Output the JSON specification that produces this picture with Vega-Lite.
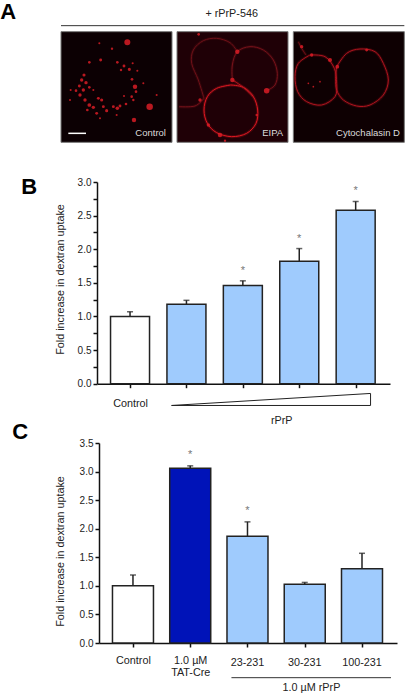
{"$schema":"https://vega.github.io/schema/vega-lite/v6.json","padding":0,"spacing":0,"bounds":"flush","background":"white","resolve":{"scale":{"color":"independent","size":"independent"}},"config":{"view":{"stroke":null},"font":"Liberation Sans","axis":{"labelFont":"Liberation Sans","titleFont":"Liberation Sans","grid":false,"domainColor":"#111","tickColor":"#111","labelColor":"#222","titleColor":"#222"}},
"datasets":{
"panels":[{"name":"Control","x0":183,"x1":516,"y0":95,"y1":427,"bg":"control"},{"name":"EIPA","x0":531,"x1":864,"y0":95,"y1":427,"bg":"eipa"},{"name":"Cytochalasin D","x0":880,"x1":1213,"y0":95,"y1":427,"bg":"cyto"}],
"rings":[
{"s":"e1","o":1,"x":692,"y":255},{"s":"e1","o":2,"x":730,"y":262},{"s":"e1","o":3,"x":760,"y":290},{"s":"e1","o":4,"x":773,"y":330},{"s":"e1","o":5,"x":768,"y":370},{"s":"e1","o":6,"x":740,"y":400},{"s":"e1","o":7,"x":695,"y":410},{"s":"e1","o":8,"x":650,"y":398},{"s":"e1","o":9,"x":622,"y":370},{"s":"e1","o":10,"x":612,"y":330},{"s":"e1","o":11,"x":622,"y":290},{"s":"e1","o":12,"x":650,"y":265},{"s":"e1","o":13,"x":692,"y":255},
{"s":"e2","o":1,"x":612,"y":295},{"s":"e2","o":2,"x":595,"y":240},{"s":"e2","o":3,"x":575,"y":190},{"s":"e2","o":4,"x":580,"y":150},{"s":"e2","o":5,"x":610,"y":122},{"s":"e2","o":6,"x":650,"y":115},{"s":"e2","o":7,"x":690,"y":128},{"s":"e2","o":8,"x":712,"y":155},
{"s":"e3","o":1,"x":697,"y":240},{"s":"e3","o":2,"x":697,"y":195},{"s":"e3","o":3,"x":712,"y":155},{"s":"e3","o":4,"x":750,"y":140},{"s":"e3","o":5,"x":790,"y":150},{"s":"e3","o":6,"x":820,"y":180},{"s":"e3","o":7,"x":832,"y":220},{"s":"e3","o":8,"x":825,"y":255},{"s":"e3","o":9,"x":800,"y":272},
{"s":"e4","o":1,"x":760,"y":290},{"s":"e4","o":2,"x":730,"y":262},{"s":"e4","o":3,"x":698,"y":240},
{"s":"e5","o":1,"x":537,"y":320},{"s":"e5","o":2,"x":585,"y":318},{"s":"e5","o":3,"x":612,"y":295},
{"s":"c1","o":1,"x":930,"y":165},{"s":"c1","o":2,"x":975,"y":170},{"s":"c1","o":3,"x":1003,"y":205},{"s":"c1","o":4,"x":1010,"y":250},{"s":"c1","o":5,"x":1005,"y":290},{"s":"c1","o":6,"x":965,"y":315},{"s":"c1","o":7,"x":920,"y":305},{"s":"c1","o":8,"x":893,"y":275},{"s":"c1","o":9,"x":885,"y":230},{"s":"c1","o":10,"x":895,"y":190},{"s":"c1","o":11,"x":930,"y":165},
{"s":"c2","o":1,"x":1010,"y":200},{"s":"c2","o":2,"x":1040,"y":160},{"s":"c2","o":3,"x":1080,"y":147},{"s":"c2","o":4,"x":1125,"y":155},{"s":"c2","o":5,"x":1150,"y":190},{"s":"c2","o":6,"x":1165,"y":240},{"s":"c2","o":7,"x":1150,"y":285},{"s":"c2","o":8,"x":1110,"y":315},{"s":"c2","o":9,"x":1070,"y":318},{"s":"c2","o":10,"x":1030,"y":300},{"s":"c2","o":11,"x":1010,"y":270},{"s":"c2","o":12,"x":1007,"y":235},{"s":"c2","o":13,"x":1010,"y":200},
{"s":"c3","o":1,"x":895,"y":125},{"s":"c3","o":2,"x":905,"y":145},{"s":"c3","o":3,"x":918,"y":165}],
"spots":[
{"x":382,"y":127,"b":26},{"x":449,"y":320,"b":30},{"x":402,"y":360,"b":14},{"x":405,"y":260,"b":14},{"x":298,"y":130,"b":3},{"x":336,"y":146,"b":4},{"x":268,"y":187,"b":5},{"x":302,"y":180,"b":6},{"x":352,"y":187,"b":5},{"x":372,"y":198,"b":6},{"x":388,"y":208,"b":7},{"x":398,"y":190,"b":3},{"x":363,"y":210,"b":4},{"x":412,"y":212,"b":3},{"x":396,"y":238,"b":5},{"x":252,"y":225,"b":7},{"x":245,"y":240,"b":8},{"x":258,"y":248,"b":8},{"x":238,"y":258,"b":6},{"x":268,"y":262,"b":5},{"x":250,"y":270,"b":8},{"x":228,"y":272,"b":5},{"x":212,"y":270,"b":3},{"x":240,"y":285,"b":8},{"x":255,"y":300,"b":8},{"x":268,"y":315,"b":10},{"x":280,"y":322,"b":8},{"x":262,"y":330,"b":5},{"x":295,"y":295,"b":6},{"x":305,"y":300,"b":7},{"x":310,"y":320,"b":6},{"x":290,"y":340,"b":6},{"x":320,"y":332,"b":7},{"x":340,"y":320,"b":6},{"x":352,"y":325,"b":9},{"x":360,"y":318,"b":6},{"x":378,"y":312,"b":5},{"x":395,"y":290,"b":5},{"x":400,"y":300,"b":4},{"x":372,"y":288,"b":3},{"x":408,"y":275,"b":5},{"x":430,"y":250,"b":3},{"x":470,"y":285,"b":3},{"x":350,"y":345,"b":3},{"x":300,"y":355,"b":3},{"x":280,"y":270,"b":3},{"x":210,"y":300,"b":3},
{"x":800,"y":272,"b":22},{"x":712,"y":155,"b":14},{"x":697,"y":240,"b":14},{"x":596,"y":103,"b":5},{"x":660,"y":405,"b":14},{"x":625,"y":375,"b":8},{"x":600,"y":300,"b":8},{"x":675,"y":422,"b":4},{"x":770,"y":345,"b":4},
{"x":990,"y":180,"b":12},{"x":935,"y":165,"b":8},{"x":1100,"y":150,"b":6},{"x":1012,"y":200,"b":10},{"x":905,"y":140,"b":8},{"x":940,"y":260,"b":2},{"x":960,"y":245,"b":2},{"x":925,"y":250,"b":2}],
"labelsA":[{"t":"Control","x":452,"y":400},{"t":"EIPA","x":818,"y":400},{"t":"Cytochalasin D","x":1104,"y":400}],
"top":[{"t":"+ rPrP-546","x":695,"y":42}],
"rules":[{"x":183,"x2":1213,"y":77,"k":"head"}],
"scalebar":[{"x":205,"x2":258,"y":400}],
"b":[{"n":1,"group":"Control","value":1.0,"upper":1.07,"sig":false},{"n":2,"group":"rPrP","value":1.18,"upper":1.24,"sig":false},{"n":3,"group":"rPrP","value":1.46,"upper":1.53,"sig":true},{"n":4,"group":"rPrP","value":1.82,"upper":2.01,"sig":true},{"n":5,"group":"rPrP","value":2.58,"upper":2.71,"sig":true}],
"c":[{"n":1,"group":"Control","label":"Control","value":1.0,"upper":1.19,"sig":false},{"n":2,"group":"TAT-Cre","label":"TAT-Cre","value":3.06,"upper":3.1,"sig":true},{"n":3,"group":"rPrP","label":"23-231","value":1.87,"upper":2.12,"sig":true},{"n":4,"group":"rPrP","label":"30-231","value":1.03,"upper":1.06,"sig":false},{"n":5,"group":"rPrP","label":"100-231","value":1.3,"upper":1.57,"sig":false}],
"wedge":[{"o":1,"x":1.736,"y":-0.324},{"o":2,"x":5.264,"y":-0.145},{"o":3,"x":5.264,"y":-0.324},{"o":4,"x":1.736,"y":-0.324}]
},
"vconcat":[
{"width":405,"height":170,"resolve":{"scale":{"color":"independent","size":"independent"}},"encoding":{"x":{"type":"quantitative","scale":{"domain":[0,1215],"range":[0,405]},"axis":null},"y":{"type":"quantitative","scale":{"domain":[0,510],"range":[0,170]},"axis":null}},
"layer":[
{"data":{"name":"panels"},"mark":{"type":"rect","stroke":"#777","strokeWidth":1},"encoding":{"x":{"field":"x0"},"x2":{"field":"x1"},"y":{"field":"y0"},"y2":{"field":"y1"},"color":{"field":"bg","type":"nominal","scale":{"domain":["control","eipa","cyto"],"range":["#0c0003","#1f0006","#0e0002"]},"legend":null}}},
{"data":{"name":"rings"},"mark":{"type":"line","interpolate":"cardinal","strokeWidth":3,"opacity":0.22},"encoding":{"x":{"field":"x"},"y":{"field":"y"},"order":{"field":"o"},"detail":{"field":"s"},"color":{"field":"s","type":"nominal","scale":{"domain":["e1","e2","e3","e4","e5","c1","c2","c3"],"range":["#e01822","#6e1018","#78121a","#b8161e","#78121a","#b0141e","#b0141e","#80121a"]},"legend":null}}},
{"data":{"name":"rings"},"mark":{"type":"line","interpolate":"cardinal","strokeWidth":1},"encoding":{"x":{"field":"x"},"y":{"field":"y"},"order":{"field":"o"},"detail":{"field":"s"},"color":{"field":"s","type":"nominal","scale":{"domain":["e1","e2","e3","e4","e5","c1","c2","c3"],"range":["#e01822","#6e1018","#78121a","#b8161e","#78121a","#b0141e","#b0141e","#80121a"]},"legend":null}}},
{"data":{"name":"spots"},"mark":{"type":"circle","color":"#d81c26","opacity":0.85},"encoding":{"x":{"field":"x"},"y":{"field":"y"},"size":{"field":"b","type":"quantitative","scale":{"domain":[0,30],"range":[0,42]},"legend":null}}},
{"data":{"name":"labelsA"},"mark":{"type":"text","color":"#dcdcdc","fontSize":9.5,"align":"center","baseline":"middle"},"encoding":{"x":{"field":"x"},"y":{"field":"y"},"text":{"field":"t"}}},
{"data":{"name":"top"},"mark":{"type":"text","color":"#222","fontSize":10.8,"align":"center","baseline":"middle"},"encoding":{"x":{"field":"x"},"y":{"field":"y"},"text":{"field":"t"}}},
{"data":{"name":"rules"},"mark":{"type":"rule","color":"#333","strokeWidth":1},"encoding":{"x":{"field":"x"},"x2":{"field":"x2"},"y":{"field":"y"}}},
{"data":{"name":"scalebar"},"mark":{"type":"rule","color":"#fff","strokeWidth":1.5},"encoding":{"x":{"field":"x"},"x2":{"field":"x2"},"y":{"field":"y"}}},
{"data":{"values":[{"t":"A","x":1,"y":36}]},"mark":{"type":"text","color":"#000","fontSize":22,"fontWeight":"bold","align":"left","baseline":"middle"},"encoding":{"x":{"field":"x"},"y":{"field":"y"},"text":{"field":"t"}}}
]},
{"width":405,"height":250,"encoding":{"x":{"type":"quantitative","scale":{"domain":[0.503,5.52],"range":[97,390]},"axis":{"offset":-36.3,"values":[1,2,3,4,5],"title":null,"grid":false,"tickSize":4,"tickWidth":1.5,"domainWidth":1.5,"labelFontSize":10.8,"labelPadding":10,"labelExpr":"datum.value==1?'Control':''"}},"y":{"type":"quantitative","scale":{"domain":[0,3],"range":[213.7,12],"nice":false},"axis":{"offset":-97,"values":[0,0.25,0.5,0.75,1,1.25,1.5,1.75,2,2.25,2.5,2.75,3],"title":"Fold increase in  dextran uptake","titleFontSize":10.8,"titleFontWeight":"normal","titleX":-37,"titleY":109,"titleAngle":-90,"titleAlign":"center","titleBaseline":"middle","tickSize":4,"tickWidth":1.5,"domainWidth":1.5,"labelFontSize":10,"labelPadding":2,"labelExpr":"floor(datum.value*2)==datum.value*2?format(datum.value,'.1f'):''"}}},
"layer":[
{"data":{"name":"b"},"mark":{"type":"rule","color":"#222","strokeWidth":1.5},"encoding":{"x":{"field":"n"},"y":{"field":"value"},"y2":{"field":"upper"}}},
{"data":{"name":"b"},"mark":{"type":"tick","orient":"horizontal","color":"#222","size":6,"thickness":1.5},"encoding":{"x":{"field":"n"},"y":{"field":"upper"}}},
{"data":{"name":"b"},"mark":{"type":"bar","orient":"vertical","width":39,"stroke":"#222","strokeWidth":1.5},"encoding":{"x":{"field":"n"},"y":{"field":"value"},"color":{"field":"group","type":"nominal","scale":{"domain":["Control","rPrP"],"range":["#ffffff","#9fcbfd"]},"legend":null}}},
{"data":{"name":"b"},"transform":[{"filter":"datum.sig"}],"mark":{"type":"text","text":"*","color":"#777","fontSize":11,"dy":-10,"baseline":"middle"},"encoding":{"x":{"field":"n"},"y":{"field":"upper"}}},
{"data":{"name":"wedge"},"mark":{"type":"line","color":"#222","strokeWidth":1},"encoding":{"x":{"field":"x"},"y":{"field":"y"},"order":{"field":"o"}}},
{"data":{"values":[{"t":"rPrP","x":3.69,"y":-0.553}]},"mark":{"type":"text","color":"#222","fontSize":10.8,"baseline":"middle"},"encoding":{"x":{"field":"x"},"y":{"field":"y"},"text":{"field":"t"}}},
{"data":{"values":[{"t":"B","x":-0.93,"y":2.92}]},"mark":{"type":"text","color":"#000","fontSize":22,"fontWeight":"bold","align":"left","baseline":"middle"},"encoding":{"x":{"field":"x"},"y":{"field":"y"},"text":{"field":"t"}}}
]},
{"width":405,"height":275,"encoding":{"x":{"type":"quantitative","scale":{"domain":[0.494,5.524],"range":[99,397]},"axis":{"offset":-52,"values":[1,2,3,4,5],"title":null,"grid":false,"tickSize":4,"tickWidth":1.5,"domainWidth":1.5,"labelFontSize":10.8,"labelPadding":7,"labelExpr":"datum.value==1?'Control':(datum.value==2?['1.0 µM','TAT-Cre']:'')"}},"y":{"type":"quantitative","scale":{"domain":[0,3.5],"range":[223,23],"nice":false},"axis":{"offset":-99,"values":[0,0.5,1,1.5,2,2.5,3,3.5],"format":".1f","title":"Fold increase in  dextran uptake","titleFontSize":10.8,"titleFontWeight":"normal","titleX":-39,"titleY":131,"titleAngle":-90,"titleAlign":"center","titleBaseline":"middle","tickSize":4,"tickWidth":1.5,"domainWidth":1.5,"labelFontSize":10,"labelPadding":2}}},
"layer":[
{"data":{"name":"c"},"mark":{"type":"rule","color":"#222","strokeWidth":1.5},"encoding":{"x":{"field":"n"},"y":{"field":"value"},"y2":{"field":"upper"}}},
{"data":{"name":"c"},"mark":{"type":"tick","orient":"horizontal","color":"#222","size":6,"thickness":1.5},"encoding":{"x":{"field":"n"},"y":{"field":"upper"}}},
{"data":{"name":"c"},"mark":{"type":"bar","orient":"vertical","width":41,"stroke":"#222","strokeWidth":1.5},"encoding":{"x":{"field":"n"},"y":{"field":"value"},"color":{"field":"group","type":"nominal","scale":{"domain":["Control","TAT-Cre","rPrP"],"range":["#ffffff","#0013b8","#9fcbfd"]},"legend":null}}},
{"data":{"name":"c"},"transform":[{"filter":"datum.sig"}],"mark":{"type":"text","text":"*","color":"#777","fontSize":11,"dy":-11,"baseline":"middle"},"encoding":{"x":{"field":"n"},"y":{"field":"upper"}}},
{"data":{"name":"c"},"transform":[{"filter":"datum.group=='rPrP'"}],"mark":{"type":"text","color":"#222","fontSize":10.8,"baseline":"middle"},"encoding":{"x":{"field":"n"},"y":{"datum":-0.35},"text":{"field":"label"}}},
{"data":{"values":[{"x":2.72,"x2":5.506,"y":-0.607}]},"mark":{"type":"rule","color":"#333","strokeWidth":1},"encoding":{"x":{"field":"x"},"x2":{"field":"x2"},"y":{"field":"y"}}},
{"data":{"values":[{"t":"1.0 µM rPrP","x":4.117,"y":-0.787}]},"mark":{"type":"text","color":"#222","fontSize":10.8,"baseline":"middle"},"encoding":{"x":{"field":"x"},"y":{"field":"y"},"text":{"field":"t"}}},
{"data":{"values":[{"t":"C","x":-1.11,"y":3.69}]},"mark":{"type":"text","color":"#000","fontSize":22,"fontWeight":"bold","align":"left","baseline":"middle"},"encoding":{"x":{"field":"x"},"y":{"field":"y"},"text":{"field":"t"}}}
]}
]}
